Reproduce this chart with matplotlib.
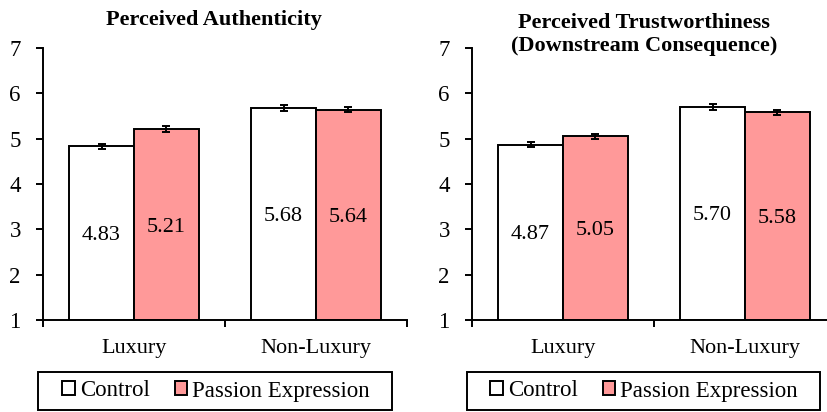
import numpy as np
import matplotlib.pyplot as plt
from matplotlib.patches import Rectangle
from matplotlib.ticker import FixedLocator, NullFormatter

plt.rcParams['font.family'] = ['Liberation Serif', 'DejaVu Serif']

categories = ['Luxury', 'Non-Luxury']
conditions = ['Control', 'Passion Expression']

# means and standard errors per panel: [control, passion] x [luxury, non-luxury]
auth_control = [4.83, 5.68]
auth_passion = [5.21, 5.64]
auth_control_se = [0.05, 0.06]
auth_passion_se = [0.06, 0.05]

trust_control = [4.87, 5.70]
trust_passion = [5.05, 5.58]
trust_control_se = [0.05, 0.06]
trust_passion_se = [0.06, 0.05]

colors = ['white', '#FF9999']

fig = plt.figure(figsize=(8.27, 4.12), dpi=100)
ax1 = fig.add_axes([43 / 827, 1 - 320 / 412, 364 / 827, 272 / 412])
ax2 = fig.add_axes([472 / 827, 1 - 320 / 412, 364 / 827, 272 / 412])


def draw_panel(ax, control, passion, control_se, passion_se):
    x = np.arange(len(categories))
    w = 0.357
    bars = []
    for vals, errs, off, col, lab in [(control, control_se, -w / 2, colors[0], conditions[0]),
                                      (passion, passion_se, w / 2, colors[1], conditions[1])]:
        b = ax.bar(x + off, np.array(vals) - 1, w, bottom=1, color=col,
                   edgecolor='black', linewidth=1.4, label=lab, zorder=2)
        ax.errorbar(x + off, vals, yerr=errs, fmt='none', ecolor='black',
                    elinewidth=1.4, capsize=3, capthick=1.4, zorder=3)
        for xi, v in zip(x + off, vals):
            ax.text(xi, (1 + v) / 2, f'{v:.2f}', ha='center', va='center_baseline', fontsize=16)
        bars.append(b)
    ax.set_xlim(-0.5, 1.5)
    ax.set_ylim(1, 7)
    ax.set_yticks(range(1, 8))
    ax.set_xticks(x)
    ax.set_xticklabels(categories, fontsize=16)
    ax.xaxis.set_minor_locator(FixedLocator([-0.5, 0.5, 1.5]))
    ax.xaxis.set_minor_formatter(NullFormatter())
    ax.tick_params(axis='x', which='major', length=0, pad=14)
    ax.tick_params(axis='x', which='minor', length=5, width=1.4, direction='out')
    ax.tick_params(axis='y', length=5, width=1.4, direction='out', pad=11, labelsize=16.5)
    for s in ['top', 'right']:
        ax.spines[s].set_visible(False)
    for s in ['left', 'bottom']:
        ax.spines[s].set_linewidth(1.4)
    return bars


bars1 = draw_panel(ax1, auth_control, auth_passion, auth_control_se, auth_passion_se)
bars2 = draw_panel(ax2, trust_control, trust_passion, trust_control_se, trust_passion_se)

fig.text(214 / 827, 1 - 20 / 412, 'Perceived Authenticity', ha='center', va='center',
         fontsize=16, fontweight='bold')
fig.text(644 / 827, 1 - 34 / 412, 'Perceived Trustworthiness\n(Downstream Consequence)',
         ha='center', va='center', fontsize=16, fontweight='bold', linespacing=1.2)

# legends with a square frame drawn separately so it can be wider than the entries
for bars, cx, x0, x1 in [(bars1, 216, 38, 392), (bars2, 644, 467, 820)]:
    fig.legend(bars, conditions, loc='center', bbox_to_anchor=(cx / 827, 1 - 391 / 412),
               ncol=2, fontsize=16.5, frameon=False, handlelength=0.55, handleheight=0.55,
               handletextpad=0.2, columnspacing=1.1, borderpad=0, borderaxespad=0)
    fig.patches.append(Rectangle((x0 / 827, 1 - 410 / 412), (x1 - x0) / 827, 38 / 412,
                                 transform=fig.transFigure, fill=False,
                                 edgecolor='black', linewidth=1.4))

fig.savefig('out.png', dpi=100)
